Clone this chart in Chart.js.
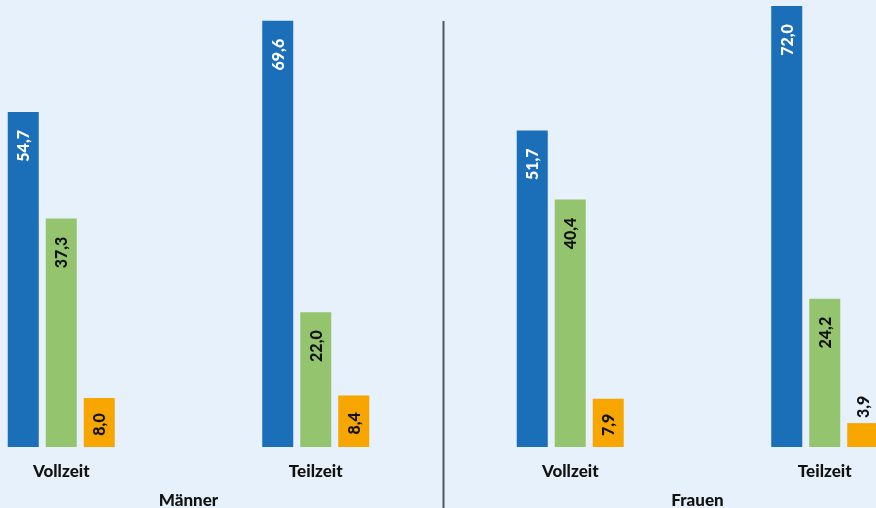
<!DOCTYPE html>
<html lang="de">
<head>
    <meta charset="UTF-8">
    <title>Vollzeit / Teilzeit nach Geschlecht</title>
    <script src="https://cdn.jsdelivr.net/npm/chart.js"></script>
    <style>
        html, body { margin: 0; padding: 0; background: #e7f1fb; overflow: hidden; }
        body { width: 876px; height: 508px; position: relative; }
        /* Diagrammfläche ist breiter als das Fenster (links/rechts angeschnitten) */
        #box { position: absolute; left: -66px; top: 0; width: 1018px; height: 508px; }
    </style>
</head>
<body>
    <div id="box"><canvas id="grafico"></canvas></div>

    <script>
        const kategorien = ['Vollzeit', 'Teilzeit', 'Vollzeit', 'Teilzeit'];
        const gruppen = ['Männer', 'Frauen'];
        const serie1 = [54.7, 69.6, 51.7, 72.0];
        const serie2 = [37.3, 22.0, 40.4, 24.2];
        const serie3 = [8.0, 8.4, 7.9, 3.9];

        const farben = ['#1b6eb8', '#94c56e', '#f7a600'];
        const textFarben = ['#ffffff', '#111111', '#111111'];

        // Werte gedreht in/über den Balken schreiben
        const wertePlugin = {
            id: 'werte',
            afterDatasetsDraw(chart) {
                const ctx = chart.ctx;
                ctx.save();
                ctx.font = '900 16px Lato';
                ctx.textBaseline = 'middle';
                chart.data.datasets.forEach((ds, i) => {
                    const meta = chart.getDatasetMeta(i);
                    meta.data.forEach((bar, j) => {
                        const txt = ds.data[j].toFixed(1).replace('.', ',');
                        const w = ctx.measureText(txt).width;
                        const hoehe = bar.base - bar.y;
                        ctx.save();
                        ctx.fillStyle = textFarben[i];
                        if (hoehe > w + 30) {
                            ctx.translate(bar.x + 1, bar.y + 18);
                            ctx.rotate(-Math.PI / 2);
                            ctx.textAlign = 'right';
                        } else if (hoehe > w + 10) {
                            ctx.translate(bar.x + 1, (bar.y + bar.base) / 2 + 2);
                            ctx.rotate(-Math.PI / 2);
                            ctx.textAlign = 'center';
                        } else {
                            ctx.fillStyle = '#111111';
                            ctx.translate(bar.x + 1, bar.y - 5);
                            ctx.rotate(-Math.PI / 2);
                            ctx.textAlign = 'left';
                        }
                        ctx.fillText(txt, 0, 0);
                        ctx.restore();
                    });
                });
                ctx.restore();
            }
        };

        // Trennlinie zwischen Männer und Frauen
        const trennPlugin = {
            id: 'trenn',
            afterDraw(chart) {
                const s = chart.scales.x2;
                const x = Math.round((s.getPixelForValue(0) + s.getPixelForValue(1)) / 2) + 0.5;
                const ctx = chart.ctx;
                ctx.save();
                ctx.strokeStyle = '#50565e';
                ctx.lineWidth = 2;
                ctx.beginPath();
                ctx.moveTo(x, 21);
                ctx.lineTo(x, chart.height);
                ctx.stroke();
                ctx.restore();
            }
        };

        const schrift = { family: 'Lato', size: 17, weight: '900' };

        const ctx = document.getElementById('grafico').getContext('2d');
        new Chart(ctx, {
            type: 'bar',
            data: {
                labels: kategorien,
                datasets: [
                    { label: 'Serie 1', data: serie1, backgroundColor: farben[0] },
                    { label: 'Serie 2', data: serie2, backgroundColor: farben[1] },
                    { label: 'Serie 3', data: serie3, backgroundColor: farben[2] }
                ]
            },
            options: {
                responsive: true,
                maintainAspectRatio: false,
                animation: false,
                layout: { padding: 0 },
                categoryPercentage: 0.448,
                barPercentage: 0.816,
                scales: {
                    y: { display: false, min: 0, max: 73 },
                    x: {
                        grid: { display: false, drawTicks: false },
                        border: { display: false },
                        ticks: { color: '#111', font: schrift, padding: 14 },
                        afterFit: s => { s.height = 30; },
                        weight: 0
                    },
                    x2: {
                        type: 'category',
                        labels: gruppen,
                        position: 'bottom',
                        offset: true,
                        grid: { display: false, drawTicks: false },
                        border: { display: false },
                        ticks: { color: '#111', font: schrift, padding: 13 },
                        afterFit: s => { s.height = 31; },
                        weight: 1
                    }
                },
                plugins: {
                    legend: { display: false },
                    tooltip: { enabled: false }
                }
            },
            plugins: [wertePlugin, trennPlugin]
        });
    </script>
</body>
</html>
